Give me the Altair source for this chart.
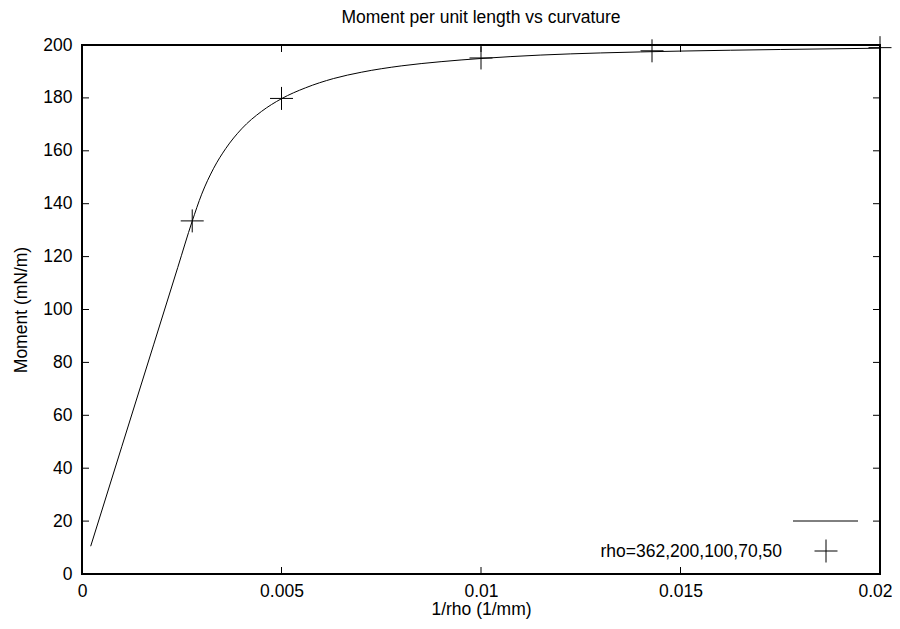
import altair as alt
import pandas as pd

# ---- data ----
curve_x = [0.000218, 0.0010, 0.0018, 0.0024, 0.00276, 0.0030, 0.0033, 0.0036,
           0.0040, 0.0045, 0.0050, 0.0056, 0.0063, 0.0070, 0.0080, 0.0090,
           0.0100, 0.0115, 0.0130, 0.0150, 0.0175, 0.0200]
curve_y = [10.5, 48.3, 86.9, 115.9, 133.3, 143.6, 153.4, 160.8,
           168.3, 174.9, 179.7, 183.8, 187.3, 189.7, 192.1, 193.7,
           194.9, 196.2, 197.0, 197.7, 198.3, 198.8]

rho = [362, 200, 100, 70, 50]
point_x = [1 / r for r in rho]
point_y = [133.5, 179.8, 195.1, 197.8, 199.0]

x_ticks = [0, 0.005, 0.01, 0.015, 0.02]
y_ticks = [0, 20, 40, 60, 80, 100, 120, 140, 160, 180, 200]

title_text = "Moment per unit length vs curvature"
x_title = "1/rho (1/mm)"
y_title = "Moment (mN/m)"
legend_label = "rho=362,200,100,70,50"

# ---- layout ----
W, H = 798, 529
FONT = "Liberation Sans"
FS = 17.5
TICK = 7

xs = alt.Scale(domain=[0, 0.02], nice=False, zero=False)
ys = alt.Scale(domain=[0, 200], nice=False, zero=False)

ax_x = alt.Axis(values=x_ticks, format="~g", title=x_title, ticks=False, domain=False, grid=False,
                labelPadding=8, titlePadding=1, labelFontSize=FS, titleFontSize=FS,
                titleFontWeight="normal", labelFont=FONT, titleFont=FONT,
                labelColor="black", titleColor="black", labelFlush=False,
                labelOffset={"condition": {"test": "datum.value >= 0.0199", "value": -5}, "value": 0})
ax_y = alt.Axis(values=y_ticks, title=y_title, ticks=False, domain=False, grid=False,
                labelPadding=10, titlePadding=12, labelFontSize=FS, titleFontSize=FS,
                titleFontWeight="normal", labelFont=FONT, titleFont=FONT,
                labelColor="black", titleColor="black", labelFlush=False)

curve_df = pd.DataFrame({"x": curve_x, "y": curve_y})
pts_df = pd.DataFrame({"x": point_x, "y": point_y})
xt_df = pd.DataFrame({"x": x_ticks})
yt_df = pd.DataFrame({"y": y_ticks})

X = alt.X("x:Q", scale=xs, axis=ax_x)
Y = alt.Y("y:Q", scale=ys, axis=ax_y)

curve = alt.Chart(curve_df).mark_line(color="black", strokeWidth=1, interpolate="monotone").encode(
    x=X, y=Y)

cross_path = "M-1,0H1M0,-1V1"
points = alt.Chart(pts_df).mark_point(shape=cross_path, size=529, filled=False,
                                      color="black", strokeWidth=1, opacity=1).encode(x=X, y=Y)

tick_style = dict(color="black", strokeWidth=1)
xt_bottom = alt.Chart(xt_df).mark_rule(**tick_style).encode(
    x=X, y=alt.value(H), y2=alt.value(H - TICK))
xt_top = alt.Chart(xt_df).mark_rule(**tick_style).encode(
    x=X, y=alt.value(0), y2=alt.value(TICK))
yt_left = alt.Chart(yt_df).mark_rule(**tick_style).encode(
    y=Y, x=alt.value(0), x2=alt.value(TICK))
yt_right = alt.Chart(yt_df).mark_rule(**tick_style).encode(
    y=Y, x=alt.value(W), x2=alt.value(W - TICK))

# legend (gnuplot style: label left, sample right)
leg_df = pd.DataFrame({"label": [legend_label]})
leg_line = alt.Chart(leg_df).mark_rule(color="black", strokeWidth=1).encode(
    x=alt.value(711), x2=alt.value(776), y=alt.value(476))
leg_cross = alt.Chart(leg_df).mark_point(shape=cross_path, size=529, filled=False,
                                         color="black", strokeWidth=1, opacity=1).encode(
    x=alt.value(744), y=alt.value(506))
leg_text = alt.Chart(leg_df).mark_text(align="right", baseline="alphabetic", font=FONT,
                                       fontSize=FS, color="black").encode(
    text="label:N", x=alt.value(700), y=alt.value(512))

chart = alt.layer(
    curve, points, xt_bottom, xt_top, yt_left, yt_right, leg_line, leg_cross, leg_text
).properties(
    width=W, height=H,
    title=alt.TitleParams(title_text, font=FONT, fontSize=FS, fontWeight="normal",
                          color="black", anchor="middle", frame="group", offset=8),
    autosize=alt.AutoSizeParams(type="none"),
    padding={"left": 74, "top": 37, "right": 12, "bottom": 47},
    background="white",
).configure_view(
    stroke="black", strokeWidth=2, fill="white"
)

chart.save("out.html", embed_options={"renderer": "svg", "actions": False})
